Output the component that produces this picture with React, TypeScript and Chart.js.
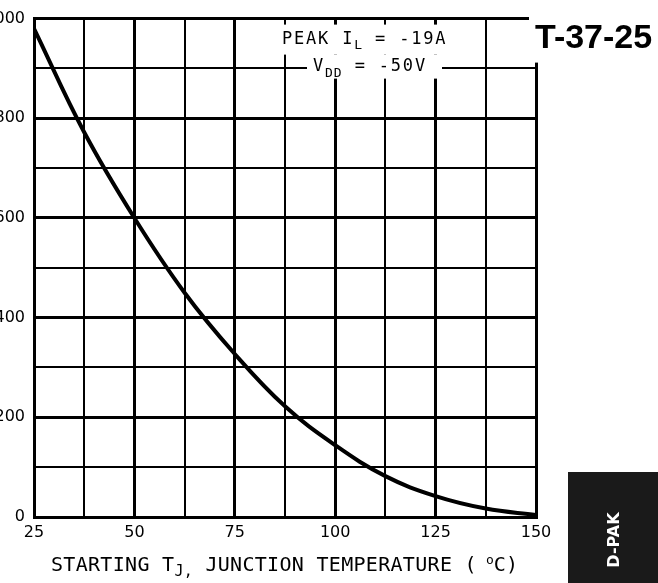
import { useEffect, useRef } from 'react';
import { Chart, registerables } from 'chart.js';

Chart.register(...registerables);

// Starting junction temperature (°C)
const temperatures = [25, 37.5, 50, 62.5, 75, 87.5, 100, 112.5, 125, 137.5, 150];
// Avalanche energy values
const energyValues = [980, 772, 600, 450, 327, 222, 144, 82, 42, 17, 4];
// Labelled ticks
const xTickLabels = [25, 50, 75, 100, 125, 150];
const yTickLabels = [0, 200, 400, 600, 800, 1000];

const titleParts = ['STARTING T', 'J,', ' JUNCTION TEMPERATURE (', 'o', 'C)'];
const peakLine = ['PEAK I', 'L', ' = -19A'];
const vddLine = ['V', 'DD', ' = -50V'];
const codeText = 'T-37-25';
const packageText = 'D-PAK';

const MONO = '"DejaVu Sans Mono", "Liberation Mono", monospace';

type Part = { text: string; font: string; dy: number; ls?: string };

function drawParts(ctx: CanvasRenderingContext2D, x: number, y: number, parts: Part[]) {
  let cx = x;
  for (const p of parts) {
    ctx.font = p.font;
    (ctx as any).letterSpacing = p.ls || '0px';
    ctx.fillText(p.text, cx, y + p.dy);
    cx += ctx.measureText(p.text).width;
  }
}

const decorPlugin = {
  id: 'decor',
  beforeDatasetsDraw(chart: any) {
    const ctx: CanvasRenderingContext2D = chart.ctx;
    const { left, top } = chart.chartArea;
    ctx.save();
    ctx.fillStyle = '#ffffff';
    // label boxes in the top of the grid
    ctx.fillRect(left + 244, top + 6, 198, 30);
    ctx.fillRect(left + 273, top + 36, 135, 24);
    // open top-right cell
    const right = chart.chartArea.right;
    ctx.fillRect(right - 7, top - 10, 14, 54);
    ctx.restore();
  },
  afterDraw(chart: any) {
    const ctx: CanvasRenderingContext2D = chart.ctx;
    const { left, top, right, bottom } = chart.chartArea;
    ctx.save();
    ctx.fillStyle = '#000';
    ctx.textAlign = 'left';
    ctx.textBaseline = 'alphabetic';

    // x-axis title
    const big = `20px ${MONO}`;
    const small = `15px ${MONO}`;
    drawParts(ctx, left + 17, bottom + 54, [
      { text: titleParts[0], font: big, dy: 0, ls: '0.3px' },
      { text: titleParts[1], font: small, dy: 5, ls: '0.3px' },
      { text: titleParts[2], font: big, dy: 0, ls: '0.3px' },
      { text: ' ', font: small, dy: 0 },
      { text: titleParts[3], font: `13px ${MONO}`, dy: -7 },
      { text: titleParts[4], font: big, dy: 0, ls: '0.3px' },
    ]);

    // condition annotations
    const af = `17px ${MONO}`;
    const sf = `13px ${MONO}`;
    drawParts(ctx, left + 248, top + 25, [
      { text: peakLine[0], font: af, dy: 0, ls: '1.8px' },
      { text: peakLine[1], font: sf, dy: 5, ls: '1px' },
      { text: peakLine[2], font: af, dy: 0, ls: '1.8px' },
    ]);
    drawParts(ctx, left + 279, top + 52, [
      { text: vddLine[0], font: af, dy: 0, ls: '1.8px' },
      { text: vddLine[1], font: sf, dy: 6, ls: '1px' },
      { text: vddLine[2], font: af, dy: 0, ls: '1.8px' },
    ]);
    (ctx as any).letterSpacing = '0px';

    // document code
    ctx.font = `bold 34px "Liberation Sans", Arial, sans-serif`;
    ctx.fillText(codeText, right - 1, top + 29);

    // package tag
    ctx.fillStyle = '#1a1a1a';
    ctx.fillRect(right + 32, bottom - 45, 100, 120);
    ctx.translate(right + 79, bottom + 23);
    ctx.rotate(-Math.PI / 2);
    ctx.fillStyle = '#ffffff';
    ctx.font = `bold 16px "DejaVu Sans", sans-serif`;
    ctx.textAlign = 'center';
    ctx.textBaseline = 'middle';
    ctx.fillText(packageText, 0, 0);
    ctx.restore();
  },
};

export default function App() {
  const canvasRef = useRef<HTMLCanvasElement | null>(null);

  useEffect(() => {
    if (!canvasRef.current) return;
    const points = temperatures.map((t, i) => ({ x: t, y: energyValues[i] }));
    const tickFont = { family: '"DejaVu Sans", sans-serif', size: 16 };
    const chart = new Chart(canvasRef.current, {
      type: 'line',
      data: {
        datasets: [
          {
            data: points,
            borderColor: '#000',
            borderWidth: 4,
            pointRadius: 0,
            fill: false,
            tension: 0.4,
          },
        ],
      },
      options: {
        animation: false,
        responsive: false,
        devicePixelRatio: 1,
        layout: { padding: { top: 18, right: 122, left: 0, bottom: 0 } },
        plugins: { legend: { display: false }, tooltip: { enabled: false } },
        scales: {
          x: {
            type: 'linear',
            min: 25,
            max: 150,
            afterFit: (s: any) => {
              s.height = 66;
            },
            afterBuildTicks: (s: any) => {
              const ticks = [];
              for (let v = 25; v <= 150; v += 12.5) ticks.push({ value: v });
              s.ticks = ticks;
            },
            ticks: {
              autoSkip: false,
              maxRotation: 0,
              padding: 6,
              color: '#000',
              font: tickFont,
              callback: (v: any) => (xTickLabels.includes(Number(v)) ? String(v) : ''),
            },
            grid: {
              color: '#000',
              drawTicks: false,
              lineWidth: (c: any) => (c.tick && xTickLabels.includes(c.tick.value) ? 3 : 2),
            },
            border: { display: true, color: '#000', width: 3 },
          },
          y: {
            min: 0,
            max: 1000,
            afterFit: (s: any) => {
              s.width = 34;
            },
            ticks: {
              stepSize: 100,
              autoSkip: false,
              padding: 9,
              color: '#000',
              font: tickFont,
              callback: (v: any) => (yTickLabels.includes(Number(v)) ? String(v) : ''),
            },
            grid: {
              color: '#000',
              drawTicks: false,
              lineWidth: (c: any) => (c.tick && yTickLabels.includes(c.tick.value) ? 3 : 2),
            },
            border: { display: true, color: '#000', width: 3 },
          },
        },
      },
      plugins: [decorPlugin],
    } as any);
    return () => chart.destroy();
  }, []);

  return (
    <div style={{ position: 'fixed', left: 0, top: 0, width: 658, height: 583, background: '#fff' }}>
      <canvas ref={canvasRef} width={658} height={583} style={{ display: 'block' }} />
    </div>
  );
}
